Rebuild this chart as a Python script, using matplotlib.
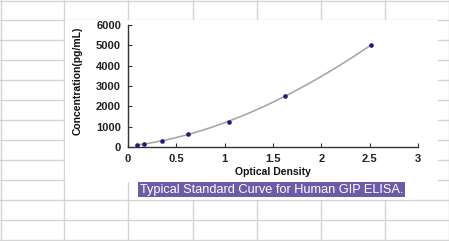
import numpy as np
import matplotlib
matplotlib.use("Agg")
import matplotlib.pyplot as plt
from matplotlib.patches import Rectangle
from matplotlib.lines import Line2D

# standard points
od = [0.09, 0.165, 0.35, 0.62, 1.045, 1.62, 2.51]
conc = [78, 156, 312, 625, 1250, 2500, 5000]

x_ticks = [0, 0.5, 1, 1.5, 2, 2.5, 3]
x_tick_labels = ['0', '0.5', '1', '1.5', '2', '2.5', '3']
y_ticks = [0, 1000, 2000, 3000, 4000, 5000, 6000]

title_text = 'Typical Standard Curve for Human GIP ELISA.'

W, H = 449, 241
fig = plt.figure(figsize=(W / 100, H / 100), dpi=100)
fig.patch.set_facecolor('white')

# spreadsheet grid behind the picture (pixel coords -> figure fraction)
def fx(px):
    return px / W

def fy(py):
    return 1 - py / H

grid_col = '#d4d4d4'
for cx in [0.5, 64, 128, 193, 257, 321, 385, 448.5]:
    fig.add_artist(Line2D([fx(cx), fx(cx)], [0, 1], color=grid_col, lw=1, zorder=0))
for ry in range(0, 241, 20):
    ry = max(ry, 0.5)
    fig.add_artist(Line2D([0, 1], [fy(ry), fy(ry)], color=grid_col, lw=1, zorder=0))

# white chart image and title image covering the grid
fig.add_artist(Rectangle((fx(64.5), fy(182)), fx(438 - 64.5), fy(20) - fy(182),
                         facecolor='white', edgecolor='none', zorder=1))
fig.add_artist(Rectangle((fx(133), fy(200)), fx(410 - 133), fy(182) - fy(200),
                         facecolor='white', edgecolor='none', zorder=1))

ax = fig.add_axes([fx(128), fy(147), fx(418 - 128), fy(25) - fy(147)], zorder=2)
ax.set_facecolor('none')

# trend line fitted to the standards
coef = np.polyfit(od, conc, 3)
xs = np.linspace(min(od), max(od), 200)
ax.plot(xs, np.polyval(coef, xs), color='#a8a8a8', lw=1.2, zorder=2)
ax.plot(od, conc, 'o', color='#1c1c70', ms=2.3, zorder=3)

ax.set_xlim(0, 3)
ax.set_ylim(0, 6000)
ax.set_xticks(x_ticks)
ax.set_xticklabels(x_tick_labels)
ax.set_yticks(y_ticks)

for s in ['top', 'right']:
    ax.spines[s].set_visible(False)
for s in ['left', 'bottom']:
    ax.spines[s].set_color('#333333')
    ax.spines[s].set_linewidth(1.0)

ax.tick_params(direction='in', length=3, width=0.8, color='#333333',
               labelsize=8, pad=5, labelcolor='#222222')
for lab in ax.get_xticklabels() + ax.get_yticklabels():
    lab.set_fontweight('bold')
    lab.set_family('Liberation Sans')

ax.set_xlabel('Optical Density', fontsize=7.5, fontweight='bold', family='Liberation Sans',
              labelpad=2, color='#111111')
ax.set_ylabel('Concentration(pg/mL)', fontsize=7.5, fontweight='bold', family='Liberation Sans',
              color='#111111')
ax.yaxis.set_label_coords(-0.155, 0.54)

fig.text(fx(140), fy(189.5), title_text, color='white', fontsize=9.2,
         family='Liberation Sans', va='center', ha='left', zorder=3,
         bbox=dict(boxstyle='square,pad=0.12', facecolor='#6c5ca8', edgecolor='none'))

fig.savefig('out.png', dpi=100)
